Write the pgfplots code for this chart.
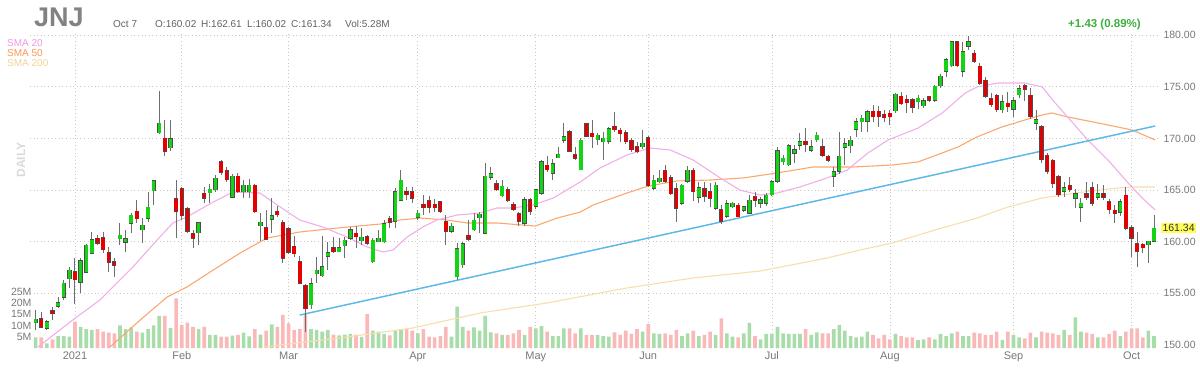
\documentclass[border=0pt]{standalone}
\usepackage{fontspec}
\setmainfont{Liberation Sans}
\usepackage{pgfplots}
\usepackage{pgfplotstable}
\pgfplotsset{compat=1.18}
\definecolor{cgreen}{RGB}{20,210,20}
\definecolor{cred}{RGB}{228,0,0}
\definecolor{vgreen}{RGB}{168,220,168}
\definecolor{vred}{RGB}{250,184,184}
\definecolor{sma20}{RGB}{240,175,232}
\definecolor{sma50}{RGB}{250,168,112}
\definecolor{sma200}{RGB}{248,222,172}
\definecolor{tline}{RGB}{95,185,232}
\definecolor{gridc}{RGB}{200,200,200}
\definecolor{txt}{RGB}{120,120,120}
\definecolor{wickc}{RGB}{110,110,110}
\definecolor{hdr}{RGB}{130,130,130}
\definecolor{chg}{RGB}{60,175,60}
\definecolor{yel}{RGB}{255,255,85}
\definecolor{dailyc}{RGB}{218,218,218}
\definecolor{l20}{RGB}{240,150,225}
\definecolor{l50}{RGB}{250,150,85}
\definecolor{l200}{RGB}{238,210,150}

\pgfplotstableread{
i o h l c v
-7 152.16 153.39 151.45 152.49 4.7
-5 151.61 152.42 151.50 152.26 2.1
-3 153.90 154.68 153.55 153.98 5.3
-2 154.62 156.30 154.36 155.98 5.3
-1 156.37 157.60 155.50 157.27 5.0
1 156.05 158.40 155.00 158.20 9.4
2 157.00 159.80 156.97 159.68 8.3
3 158.87 160.97 158.80 160.20 8.0
8 160.36 161.78 159.68 160.56 10.0
9 160.10 161.13 158.97 160.16 8.3
10 161.78 162.80 160.87 162.58 9.1
12 161.13 162.25 159.84 161.60 6.8
13 162.25 164.85 161.94 163.38 8.3
14 164.92 165.99 163.54 165.92 10.0
15 170.52 174.55 170.40 171.49 14.2
17 169.07 171.81 168.75 169.97 8.8
22 160.87 161.94 159.68 161.84 8.3
24 164.85 165.60 163.70 165.01 5.8
25 165.01 166.46 164.85 166.14 5.8
28 164.26 166.55 164.20 166.36 5.5
30 164.84 165.97 164.20 165.49 6.8
31 164.84 166.04 164.20 165.49 5.1
33 161.65 162.74 160.10 161.75 5.9
35 162.26 164.20 160.81 162.42 10.4
42 153.87 156.50 153.50 155.97 8.3
43 156.87 158.55 155.97 157.26 8.0
44 156.68 160.54 156.61 157.58 7.2
45 158.55 160.00 157.26 158.94 8.0
47 159.03 160.32 159.03 159.42 5.6
48 159.58 160.48 158.39 160.16 5.9
49 160.32 161.45 160.16 161.19 6.2
51 160.16 161.29 159.68 160.32 4.9
53 158.06 160.32 157.90 160.16 7.7
54 160.10 161.13 160.00 160.25 7.2
55 160.00 162.10 159.84 161.78 6.2
57 161.94 165.17 161.29 164.85 7.7
58 164.00 166.94 163.90 165.97 8.3
61 162.36 163.07 162.10 162.75 6.5
67 160.97 161.84 160.81 161.52 5.0
68 156.61 159.84 156.29 159.36 18.3
69 157.74 160.00 157.50 159.84 9.4
71 161.13 162.75 161.00 162.10 9.1
72 162.42 162.91 160.81 162.52 7.7
73 160.81 167.59 160.74 166.36 14.2
74 166.35 167.20 166.00 166.45 6.9
76 164.42 165.97 164.30 165.39 5.8
80 161.78 164.30 161.50 164.10 5.8
82 163.39 165.10 163.20 165.04 8.7
83 164.68 167.90 164.50 167.75 9.7
85 166.62 168.00 166.00 167.59 5.3
86 168.23 169.20 168.10 168.39 5.3
87 169.78 171.46 169.53 170.17 8.7
90 166.94 170.00 166.90 169.84 8.7
93 169.84 170.50 169.36 170.33 5.8
94 169.80 170.65 167.91 169.88 5.3
95 169.68 171.10 169.50 170.97 5.0
101 169.20 170.81 169.00 169.52 7.2
103 165.17 166.46 165.00 165.97 6.5
104 165.93 166.94 165.70 166.00 6.2
108 163.71 165.60 163.60 165.49 5.3
109 165.81 167.33 165.70 166.94 6.5
111 164.30 165.81 163.78 165.26 5.3
114 163.23 165.81 163.07 165.49 5.8
116 162.42 164.04 162.26 163.71 6.5
117 163.50 163.88 163.23 163.58 5.0
119 163.20 163.50 162.90 163.26 6.5
120 162.75 164.52 162.70 164.04 11.1
122 163.85 164.36 163.23 163.90 3.8
123 163.71 164.70 163.46 164.52 6.2
124 164.52 166.00 164.40 165.81 6.2
125 165.81 169.20 165.65 168.81 9.4
126 167.88 168.39 167.42 167.94 6.5
127 167.42 169.42 167.33 169.30 6.2
128 168.55 169.36 167.59 168.94 6.2
129 169.36 170.49 168.88 169.68 6.2
131 168.88 169.84 168.72 169.20 5.8
132 169.84 170.65 169.70 170.33 6.9
135 166.30 167.20 165.33 166.78 8.3
136 166.78 170.65 166.60 168.30 10.2
137 169.20 170.00 167.42 169.46 7.7
138 169.26 170.20 168.55 169.84 5.3
139 170.88 172.00 170.17 171.62 4.7
140 171.74 172.27 170.65 171.82 5.0
141 171.62 172.75 170.65 172.60 7.2
146 172.68 174.40 172.50 174.30 6.2
150 173.68 174.20 172.81 173.72 3.5
151 173.14 173.90 172.90 173.65 3.8
153 173.65 175.20 173.50 175.07 3.8
154 175.07 176.20 174.90 176.04 6.2
155 176.46 177.80 175.98 177.65 5.3
156 177.01 179.40 176.90 179.36 6.5
158 176.46 179.36 175.98 178.40 5.3
159 178.88 179.91 178.55 179.36 5.3
165 172.75 174.20 172.50 173.56 3.6
167 172.81 174.04 172.04 173.65 5.8
168 174.20 175.17 173.90 174.85 4.7
171 171.46 172.75 170.85 171.78 4.7
176 164.84 165.81 164.36 165.26 8.0
178 164.20 165.07 163.23 164.68 13.6
179 163.33 164.20 161.94 163.72 7.2
182 164.30 165.60 164.00 164.68 4.7
186 162.81 164.10 162.50 163.88 5.3
191 159.80 160.00 157.90 159.90 7.7
192 160.02 162.61 160.02 161.34 5.28
}\up

\pgfplotstableread{
i o h l c v
-6 152.58 153.23 151.61 151.71 4.7
-4 153.22 153.70 152.42 153.12 3.8
0 157.10 158.40 154.00 156.30 11.7
4 160.33 160.65 159.70 159.84 8.3
5 160.40 160.97 158.87 159.20 7.2
6 158.97 159.50 157.10 157.97 6.8
7 158.07 158.40 156.63 157.68 6.5
11 162.99 164.04 161.78 162.20 7.2
16 170.04 171.81 168.33 168.75 14.2
18 164.20 165.99 160.33 162.91 22.0
19 165.17 165.30 162.10 162.49 10.2
20 163.23 163.38 160.81 160.97 11.2
21 160.81 161.13 159.36 160.33 9.4
23 164.69 165.30 163.70 164.20 9.4
26 167.78 167.90 166.46 166.70 5.0
27 166.88 167.20 165.81 165.97 5.0
29 166.36 166.61 164.68 164.84 5.8
32 165.49 165.60 162.74 162.88 8.3
34 161.38 163.10 160.16 160.22 7.7
36 162.97 163.45 162.36 162.58 9.4
37 161.84 162.10 157.90 158.39 14.6
38 161.29 161.45 158.80 158.94 10.9
39 159.58 160.54 158.55 158.80 8.0
40 158.06 158.61 155.90 155.97 8.3
41 155.80 155.90 151.29 153.50 15.0
46 159.42 160.48 158.87 159.03 5.9
50 160.72 161.50 159.40 160.62 5.9
52 160.48 160.64 159.68 159.84 15.0
56 162.26 162.50 161.29 161.84 5.6
59 164.90 165.26 164.04 164.50 8.3
60 164.85 165.30 163.78 164.20 7.7
62 163.55 164.55 162.59 163.36 8.3
63 163.97 164.39 162.75 163.33 5.0
64 163.50 164.10 162.90 163.42 4.7
65 163.87 163.97 162.75 162.91 5.3
66 161.94 162.59 159.68 160.97 9.4
70 160.65 162.10 160.10 160.20 7.7
75 165.65 166.00 164.90 165.01 6.5
77 165.07 165.30 163.87 163.97 5.8
78 163.65 163.85 163.00 163.07 6.5
79 162.75 162.90 161.52 161.94 8.0
81 164.10 164.20 162.58 162.91 9.4
84 167.42 168.30 166.75 166.94 7.2
88 170.65 170.81 168.70 168.72 8.7
89 168.39 169.20 167.90 168.07 6.5
91 171.46 171.52 170.10 170.17 5.8
92 170.36 171.78 169.04 170.30 5.8
96 171.20 172.59 170.65 170.81 6.9
97 170.81 171.00 169.68 170.43 5.8
98 170.55 170.80 169.50 169.68 7.7
99 169.84 170.00 168.72 168.88 6.2
100 169.20 169.68 168.55 168.72 8.3
102 170.10 170.20 165.30 165.39 10.6
105 166.88 167.42 165.65 165.81 6.5
106 166.23 166.46 164.50 164.62 5.8
107 165.17 165.65 161.94 163.23 8.0
110 166.94 167.10 163.97 164.84 7.7
112 165.17 165.81 163.88 164.36 5.8
113 164.84 165.65 163.39 164.20 7.2
115 163.13 163.55 161.71 161.94 13.1
118 163.55 163.70 162.36 162.42 4.7
121 164.36 164.84 163.39 163.97 5.3
130 169.68 170.97 168.72 169.43 8.3
133 169.20 169.90 168.20 168.30 6.5
134 168.23 168.40 167.75 167.91 6.5
142 172.65 173.23 171.62 172.10 5.8
143 172.65 173.14 171.14 172.10 4.3
144 172.33 172.75 171.62 172.04 5.8
145 172.36 172.75 171.30 172.20 3.8
147 174.10 174.52 173.20 173.33 5.3
148 173.72 174.20 172.43 173.56 4.7
149 173.78 173.90 172.43 173.01 4.7
152 174.04 174.10 173.50 173.65 4.7
157 179.36 179.40 176.90 177.01 7.2
160 178.24 178.55 177.30 177.43 6.8
161 177.01 177.30 175.20 175.33 6.5
162 175.65 175.98 173.90 174.04 5.8
163 173.88 174.36 173.07 173.23 5.8
164 174.20 174.30 172.60 172.75 7.2
166 173.39 174.50 172.55 173.07 7.2
169 174.97 175.30 173.65 174.90 4.3
170 174.20 174.85 171.85 172.10 6.8
172 171.14 171.30 167.60 167.91 7.2
173 168.39 168.60 166.60 166.78 6.8
174 167.84 168.00 165.17 165.59 6.5
175 166.30 166.50 164.36 164.52 5.8
177 165.49 166.30 164.84 165.01 5.8
180 164.50 165.81 164.00 164.42 6.8
181 165.26 165.81 163.50 163.72 6.2
183 164.62 165.50 164.00 164.30 4.7
184 163.88 164.10 162.70 163.07 6.2
185 163.00 163.60 161.80 162.75 7.7
187 164.52 165.30 161.10 161.29 7.2
188 161.39 161.60 158.49 160.33 8.7
189 159.84 160.97 157.52 159.04 8.7
190 159.68 159.84 158.90 159.45 4.7
}\down

% half body heights in price units, at least 0.17
\newcommand{\fillerr}{max(abs(\thisrow{c}-\thisrow{o})/2-0.02,0.17)}
\newcommand{\outerr}{max(abs(\thisrow{c}-\thisrow{o})/2-0.02,0.17)+0.045}

\pgfplotsset{
  base/.style={at={(30pt,27pt)}, anchor=south west, scale only axis,
    width=1130pt, height=316pt, xmin=-8.007, xmax=193.06,
    axis line style={draw=none}, major tick length=0pt},
  cswick/.style={draw=none, mark=none, forget plot,
    error bars/.cd, y dir=both, y explicit, error mark=none,
    error bar style={draw=wickc, line width=1.0pt}},
  csout/.style={draw=none, mark=none, forget plot,
    error bars/.cd, y dir=both, y explicit, error mark=none,
    error bar style={draw=black!70, line width=4.3pt}},
  csfill/.style={draw=none, mark=none, forget plot,
    error bars/.cd, y dir=both, y explicit, error mark=none,
    error bar style={draw=#1, line width=3.4pt}},
}

\begin{document}
\begin{tikzpicture}[x=1pt,y=1pt]

% grid + labels
\begin{axis}[base, ymin=149.71, ymax=180.30,
  ytick={155,160,165,170,175,180},
  extra y ticks={150}, extra y tick labels={150.00},
  extra y tick style={grid=none},
  yticklabel pos=right,
  /pgf/number format/assume math mode=true,
  yticklabel={\pgfmathprintnumber[fixed,fixed zerofill,precision=2]{\tick}},
  xtick={0,19,38,61,82,102,124,145,167,188},
  xticklabels={2021,Feb,Mar,Apr,May,Jun,Jul,Aug,Sep,Oct},
  xmajorgrids, ymajorgrids,
  grid style={gridc, dash pattern=on 1pt off 2.6pt, line width=0.7pt},
  yticklabel style={font=\fontsize{10.5}{12}\selectfont, text=txt},
  xticklabel style={font=\fontsize{11}{13}\selectfont, text=txt},
]
\addplot[draw=none] coordinates {(0,160)};
\end{axis}

% volume
\begin{axis}[base, ymin=0, ymax=139.8, xtick=\empty,
  ytick={5,10,15,20,25}, yticklabels={5M,10M,15M,20M,25M},
  yticklabel style={font=\fontsize{10.5}{12}\selectfont, text=txt, xshift=5pt},
]
\addplot[ybar, bar width=3.6pt, bar shift=0pt, fill=vgreen, draw=none] table[x=i,y=v]{\up};
\addplot[ybar, bar width=3.6pt, bar shift=0pt, fill=vred, draw=none] table[x=i,y=v]{\down};
\end{axis}

% price plots
\begin{axis}[base, ymin=149.71, ymax=180.30, xtick=\empty, ytick=\empty]
\addplot[sma200, line width=1.1pt] coordinates {(33.8,149.8) (36.5,150.0) (48.4,150.77) (60.1,151.65) (72.1,153.1) (84.0,154.07) (98.2,155.52) (110.0,156.49) (121.9,157.16) (133.8,158.42) (139.7,159.2) (145.4,159.87) (153.0,161.13) (160.5,162.29) (166.0,163.36) (172.1,164.23) (177.9,164.71) (183.8,165.1) (188.1,165.3) (192.2,165.3)};
\addplot[sma50, line width=1.1pt] coordinates {(6.2,149.8) (11.6,152.42) (16.4,154.65) (19.9,155.61) (24.6,157.26) (29.4,158.91) (34.2,160.36) (40.0,160.94) (48.4,161.42) (54.3,161.71) (57.8,162.1) (61.4,162.29) (66.2,162.1) (69.8,161.81) (75.1,161.81) (81.9,161.52) (85.8,162.29) (89.9,162.87) (92.2,163.55) (98.2,164.71) (102.0,165.39) (107.1,165.88) (113.0,165.97) (118.9,166.17) (124.9,166.65) (131.3,167.23) (138.3,167.23) (145.4,167.42) (150.0,167.72) (154.3,168.59) (157.1,169.17) (160.5,170.14) (164.9,171.1) (169.0,171.78) (172.1,172.27) (173.8,172.46) (176.7,172.07) (183.8,171.3) (188.1,170.81) (192.2,169.85)};
\addplot[sma20, line width=1.1pt] coordinates {(-6.6,149.8) (-0.4,152.42) (4.45,154.36) (10.3,157.55) (14.6,160.16) (17.4,161.81) (19.9,162.39) (24.6,163.84) (28.1,164.81) (32.9,164.71) (36.5,163.36) (40.0,162.1) (44.1,161.42) (48.4,160.45) (52.0,159.49) (54.8,159.0) (56.6,159.2) (59.1,160.45) (61.9,161.42) (64.4,162.1) (68.0,162.58) (72.1,162.78) (75.1,163.26) (77.9,163.26) (81.5,163.55) (85.1,164.23) (88.1,165.2) (89.9,165.78) (93.4,167.13) (98.2,168.39) (102.3,169.07) (105.9,168.88) (110.0,167.91) (114.8,166.17) (118.3,165.0) (121.9,164.52) (124.9,164.71) (129.0,165.3) (133.8,166.17) (137.4,166.94) (141.1,168.59) (144.7,169.85) (150.0,171.0) (154.3,172.46) (158.4,174.39) (160.5,174.98) (164.2,175.36) (169.0,175.36) (172.1,174.98) (174.4,173.43) (177.4,171.59) (180.2,169.85) (183.8,167.91) (187.4,165.68) (189.9,164.23) (192.2,163.07)};
\addplot[tline, line width=1.5pt] coordinates {(40.0,152.9) (192.2,171.2)};

\addplot[cswick] table[x=i, y expr={(\thisrow{h}+\thisrow{l})/2}, y error expr={(\thisrow{h}-\thisrow{l})/2}]{\up};
\addplot[cswick] table[x=i, y expr={(\thisrow{h}+\thisrow{l})/2}, y error expr={(\thisrow{h}-\thisrow{l})/2}]{\down};
\addplot[csout] table[x=i, y expr={(\thisrow{o}+\thisrow{c})/2}, y error expr={\outerr}]{\up};
\addplot[csout] table[x=i, y expr={(\thisrow{o}+\thisrow{c})/2}, y error expr={\outerr}]{\down};
\addplot[csfill=cgreen] table[x=i, y expr={(\thisrow{o}+\thisrow{c})/2}, y error expr={\fillerr}]{\up};
\addplot[csfill=cred] table[x=i, y expr={(\thisrow{o}+\thisrow{c})/2}, y error expr={\fillerr}]{\down};
\end{axis}

% header texts
\node[anchor=base west, inner sep=0pt, text=hdr, font=\bfseries\fontsize{27}{30}\selectfont] at (34,348) {JNJ};
\begin{scope}[every node/.style={anchor=base west, inner sep=0pt, text=black!62, font=\fontsize{10}{12}\selectfont}]
\node at (113,347) {Oct 7};
\node at (155,347) {O:160.02};
\node at (201,347) {H:162.61};
\node at (247,347) {L:160.02};
\node at (291,347) {C:161.34};
\node at (345,347) {Vol:5.28M};
\end{scope}
\node[anchor=base west, inner sep=0pt, text=chg, font=\bfseries\fontsize{11.5}{13}\selectfont] at (1068,347) {+1.43 (0.89\%)};
\node[anchor=base west, inner sep=0pt, text=l20, font=\fontsize{10}{12}\selectfont] at (7,328) {SMA 20};
\node[anchor=base west, inner sep=0pt, text=l50, font=\fontsize{10}{12}\selectfont] at (7,318) {SMA 50};
\node[anchor=base west, inner sep=0pt, text=l200, font=\fontsize{10}{12}\selectfont] at (7,308) {SMA 200};
\node[rotate=90, inner sep=0pt, text=dailyc, font=\bfseries\fontsize{12}{14}\selectfont] at (21,215) {DAILY};
\node[anchor=west, fill=yel, inner sep=1.3pt, text=black!80, font=\fontsize{10.5}{12}\selectfont] at (1161,147) {161.34};

\pgfresetboundingbox
\path[use as bounding box] (0,0) rectangle (1200,375);
\end{tikzpicture}
\end{document}
